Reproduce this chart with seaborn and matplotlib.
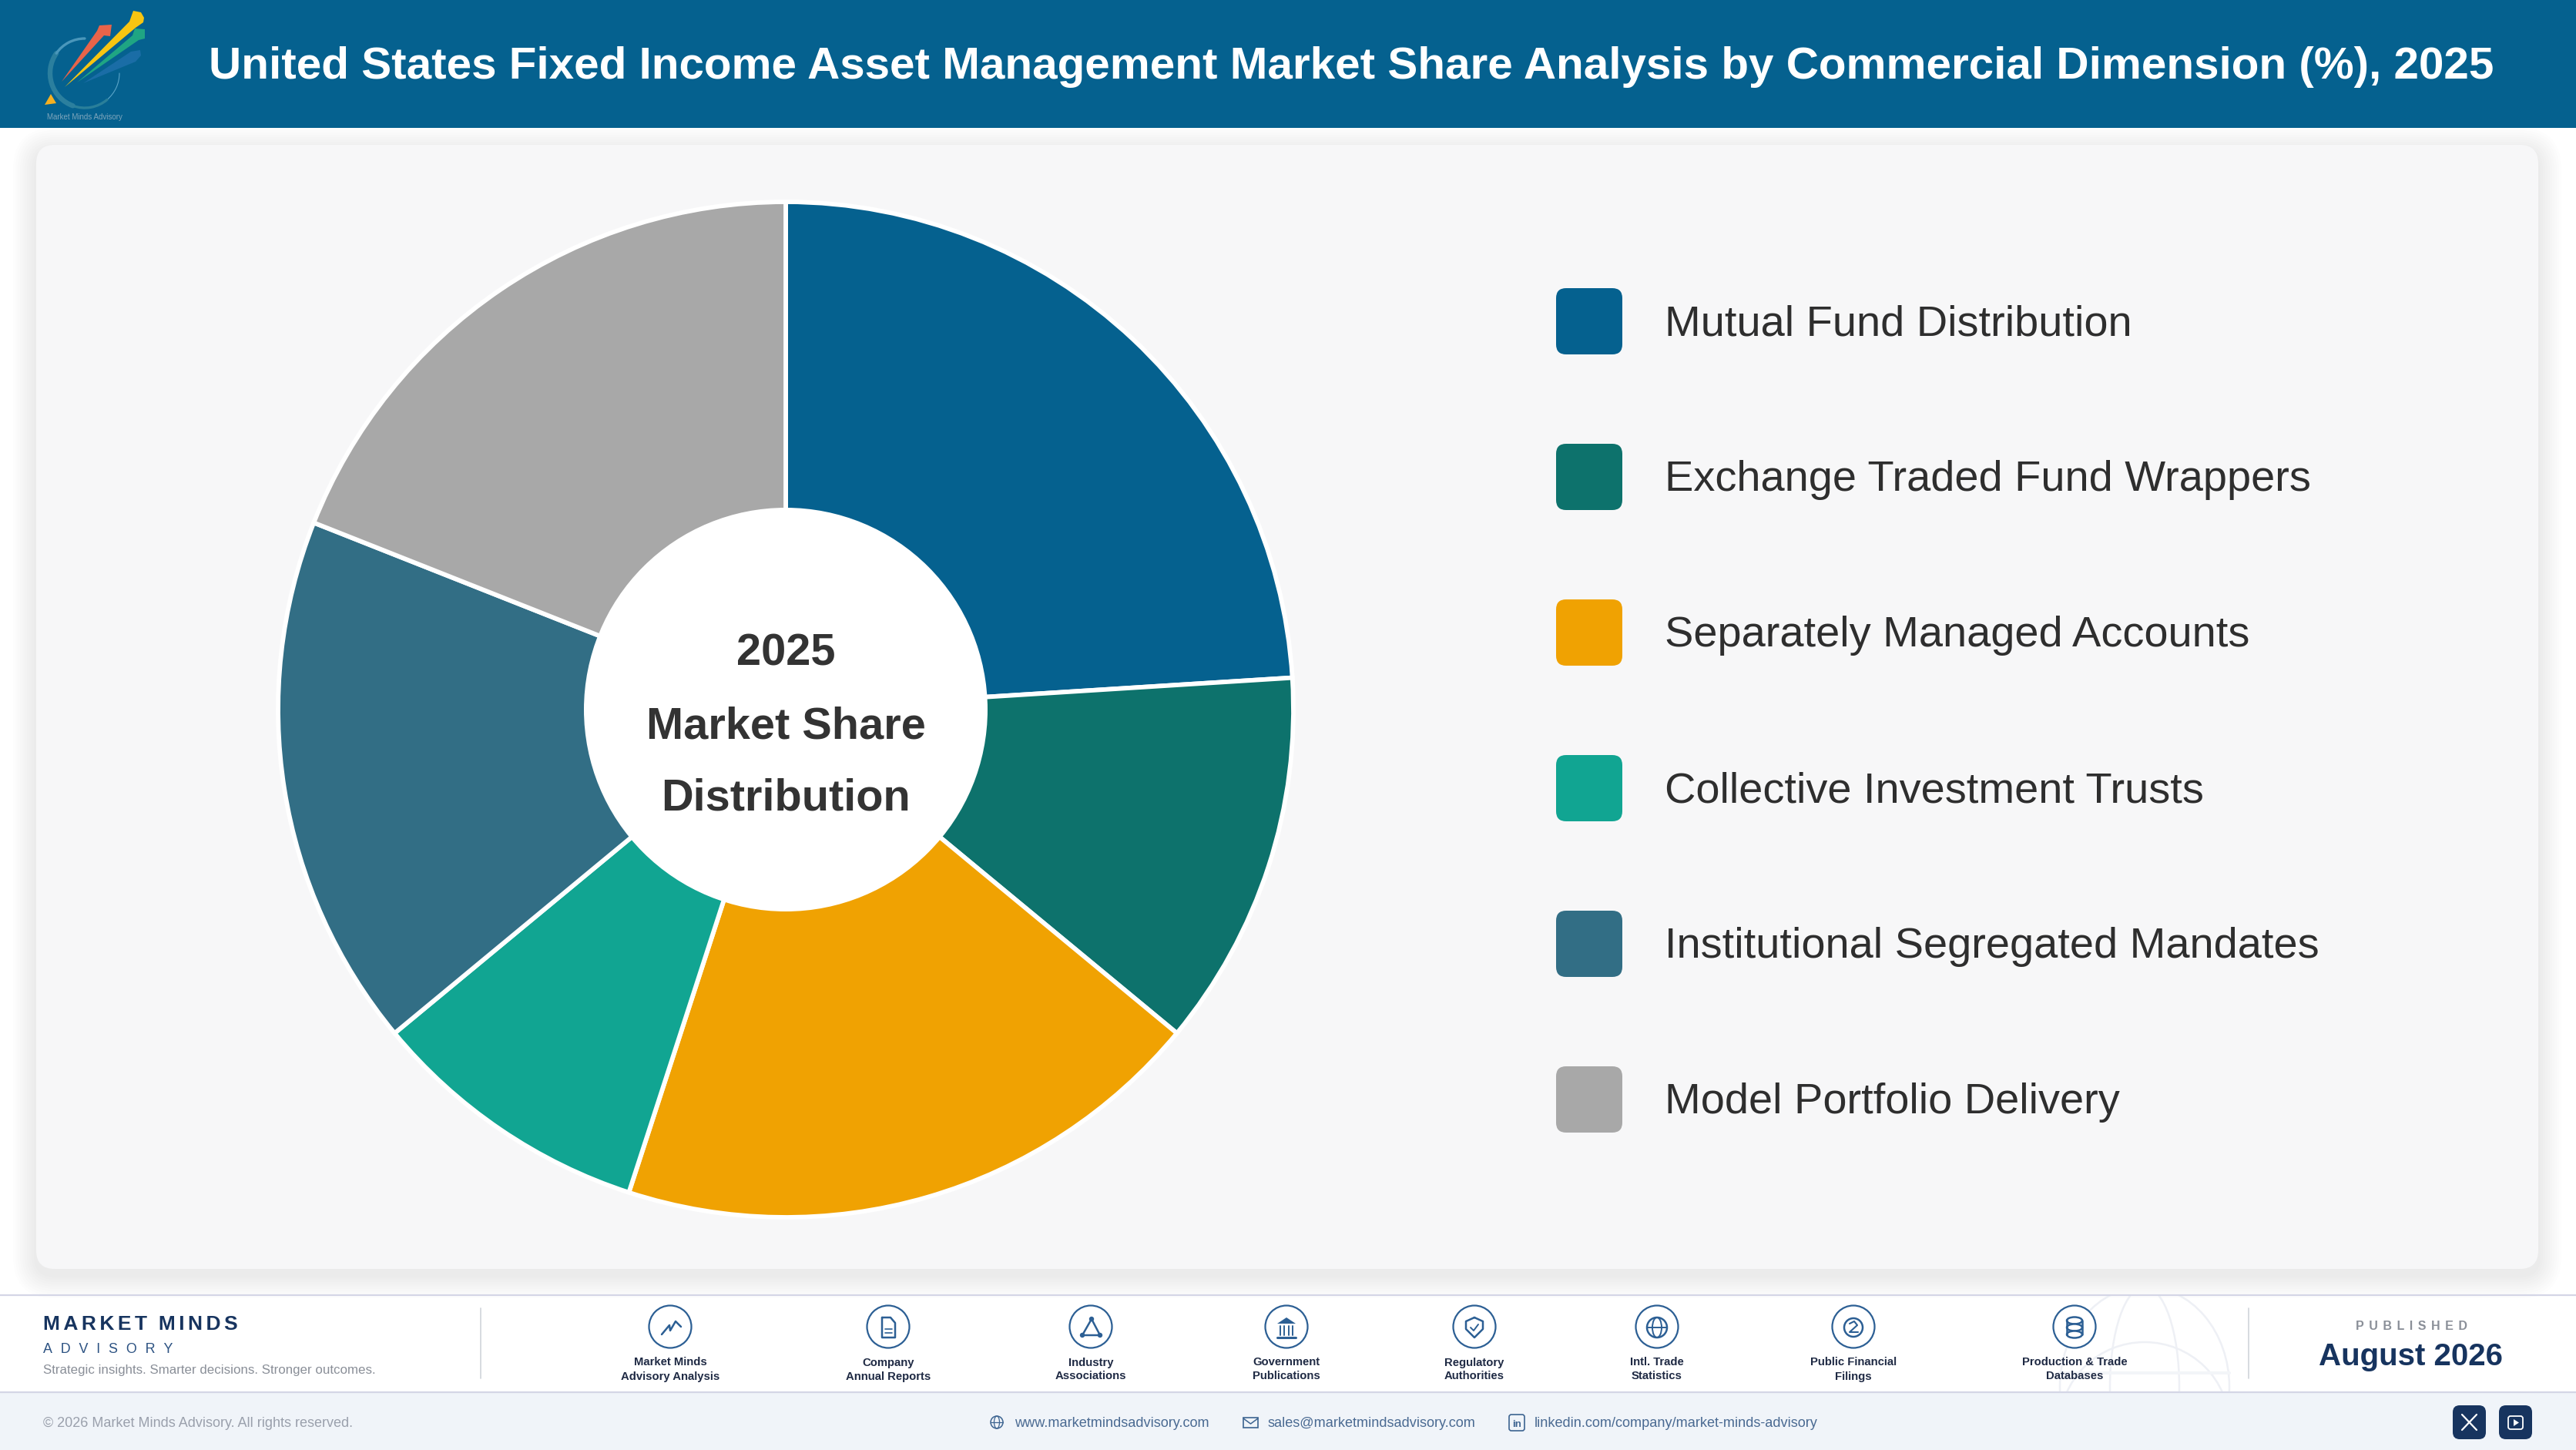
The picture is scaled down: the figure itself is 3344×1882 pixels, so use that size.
import matplotlib
matplotlib.use("Agg")
import matplotlib.pyplot as plt
import seaborn as sns
from matplotlib.patches import Circle, Ellipse, FancyBboxPatch, Polygon, Rectangle, Arc

# chart values
categories = ["Mutual Fund Distribution", "Exchange Traded Fund Wrappers", "Separately Managed Accounts",
              "Collective Investment Trusts", "Institutional Segregated Mandates", "Model Portfolio Delivery"]
shares = [24, 12, 19, 9, 17, 19]
colors = ["#05618F", "#0D726C", "#F0A202", "#11A592", "#326E85", "#A8A8A8"]

title = "United States Fixed Income Asset Management Market Share Analysis by Commercial Dimension (%), 2025"
center_lines = ["2025", "Market Share", "Distribution"]
source_labels = [("Market Minds", "Advisory Analysis"), ("Company", "Annual Reports"), ("Industry", "Associations"),
                 ("Government", "Publications"), ("Regulatory", "Authorities"), ("Intl. Trade", "Statistics"),
                 ("Public Financial", "Filings"), ("Production & Trade", "Databases")]
source_x = [870, 1153, 1416, 1670, 1914, 2151, 2406, 2693]

W, H = 3344, 1882
HEADER = "#05618F"
NAVY = "#17345F"
ICON = "#2C5F94"
FONT = ["Liberation Sans", "DejaVu Sans"]

sns.set_theme(style="white")
plt.rcParams["font.family"] = FONT
palette = sns.color_palette(colors)

fig = plt.figure(figsize=(W / 100, H / 100), dpi=100, facecolor="white")


def make_overlay(z):
    a = fig.add_axes([0, 0, 1, 1], zorder=z)
    a.set_xlim(0, W)
    a.set_ylim(H, 0)
    a.axis("off")
    return a


bg = make_overlay(0)
ov = make_overlay(2)


def rounded(ax, x0, y0, x1, y1, r, **kw):
    p = FancyBboxPatch((x0 + r, y0 + r), x1 - x0 - 2 * r, y1 - y0 - 2 * r,
                       boxstyle=f"round,pad={r},rounding_size={r}", **kw)
    ax.add_patch(p)
    return p


def txt(x, y, s, size, color, weight="normal", ha="left", ax=None):
    return (ax or ov).text(x, y, s, fontsize=size, color=color, fontweight=weight, ha=ha,
                           va="center_baseline", family=FONT)


def spaced(s, gap):
    return gap.join(s)


# header and panel, shadow is a stack of faint boxes
bg.add_patch(Rectangle((0, 0), W, 166, fc=HEADER, ec="none"))
for grow in range(30, 0, -3):
    rounded(bg, 47 - grow, 188 - grow + 8, 3295 + grow, 1647 + grow + 8, 24 + grow, fc="black", ec="none", alpha=0.0065)
rounded(bg, 47, 188, 3295, 1647, 24, fc="#F7F7F8", ec="none")

txt(271, 81, title, 42.05, "white", "bold")

# logo
for t0, t1, lw, c in [(0, 50, 0.8, "#5BA5C9"), (50, 110, 2.4, "#2A7F9A"), (110, 215, 4.6, "#2B7F9E"),
                      (215, 270, 2.4, "#4A97BB")]:
    seg = Arc((110, 95), 90, 90, theta1=t0, theta2=t1, color=c, lw=lw)
    seg.set_capstyle("round")
    ov.add_patch(seg)
ov.add_patch(Polygon([(58, 136), (66, 122), (73, 134)], fc="#F5B021", ec="none"))
arrows = [([(80, 106), (126, 40), (129, 33), (145, 32), (143, 47), (135, 46)], "#E8644A"),
          ([(84, 113), (168, 28), (173, 14), (183, 16), (187, 23), (186, 29), (176, 36)], "#F7C511"),
          ([(100, 107), (172, 46), (175, 37), (188, 38), (188, 50), (180, 52)], "#1FA583"),
          ([(108, 108), (170, 67), (182, 65), (183, 72), (176, 80)], "#1A6DA6")]
for pts, c in arrows:
    ov.add_patch(Polygon(pts, fc=c, ec="none"))
txt(110, 151, "Market Minds Advisory", 7, "#7FA6BC", ha="center")

# pie
R, cx, cy = 659, 1020, 921
ax = fig.add_axes([(cx - R) / W, (H - cy - R) / H, 2 * R / W, 2 * R / H], zorder=1)
ax.pie(shares, colors=palette, startangle=90, counterclock=False, radius=1,
       wedgeprops=dict(edgecolor="white", linewidth=4.2, clip_on=False))
ax.set_xlim(-1, 1)
ax.set_ylim(-1, 1)
ax.add_patch(Circle((0, 0), 262 / R, fc="white", ec="none", zorder=5))
for line_text, y in zip(center_lines, [843, 937, 1031]):
    txt(cx, y, line_text, 41.6, "#333333", "bold", ha="center")

# legend
for i, (name, c) in enumerate(zip(categories, palette)):
    top = 374 + i * 202
    rounded(ov, 2020, top, 2106, top + 86, 13, fc=c, ec="none")
    txt(2161, top + 41, name, 40.3, "#2E2E2E")

# footer bands
bg.add_patch(Rectangle((0, 1808), W, H - 1808, fc="#F0F4F9", ec="none"))
clip = Rectangle((0, 1682), W, 125, transform=bg.transData)
for e in [Ellipse((2784, 1800), 220, 260), Ellipse((2784, 1800), 90, 260), Ellipse((2784, 1850), 220, 216)]:
    e.set(fc="none", ec="#EEF0F5", lw=1.8)
    bg.add_patch(e)
    e.set_clip_path(clip)
bg.plot([2673, 2894], [1782, 1782], color="#F3F5F8", lw=3)
bg.set_xlim(0, W)
bg.set_ylim(H, 0)
for y in (1681, 1807):
    ov.plot([0, W], [y, y], color="#D4D6E6", lw=1.6, solid_capstyle="butt")
for x in (624, 2919):
    ov.plot([x, x], [1698, 1789], color="#D0D4DA", lw=1.2)

txt(56, 1716, spaced("MARKET", "\u200a\u200a") + " \u2009\u200a" + spaced("MINDS", "\u200a\u200a"), 19, "#17345F", "bold")
txt(56, 1749, spaced("ADVISORY", "\u2009\u2009\u2009"), 12.9, "#2C5282")
txt(56, 1777, "Strategic insights. Smarter decisions. Stronger outcomes.", 12.2, "#8A8F98")


def line(pts, c=ICON, lw=1.8):
    xs, ys = zip(*pts)
    ov.plot(xs, ys, color=c, lw=lw, solid_capstyle="round", solid_joinstyle="round")


def icon_glyph(i, x, y):
    if i == 0:
        line([(x - 11, y + 10), (x - 1, y - 2), (x, y + 5), (x + 7, y - 7), (x + 14, y)])
    elif i == 1:
        line([(x - 8, y - 12), (x + 3, y - 12), (x + 9, y - 5), (x + 9, y + 14), (x - 8, y + 14), (x - 8, y - 12)])
        line([(x - 4, y + 3), (x + 5, y + 3)], lw=1.2)
        line([(x - 4, y + 8), (x + 5, y + 8)], lw=1.2)
    elif i == 2:
        line([(x + 1, y - 10), (x - 11, y + 11), (x + 12, y + 11), (x + 1, y - 10)])
        for dx, dy in [(1, -10), (-11, 11), (12, 11)]:
            ov.add_patch(Circle((x + dx, y + dy), 3.2, fc=ICON, ec="none"))
    elif i == 3:
        ov.add_patch(Polygon([(x - 12, y - 4), (x, y - 12), (x + 12, y - 4)], fc=ICON, ec="none"))
        for dx in (-8, -3, 3, 8):
            line([(x + dx, y - 1), (x + dx, y + 11)], lw=1.4)
        line([(x - 12, y + 14), (x + 12, y + 14)], lw=2.2)
    elif i == 4:
        line([(x, y - 12), (x + 11, y - 7), (x + 11, y + 3), (x, y + 14), (x - 11, y + 3), (x - 11, y - 7), (x, y - 12)])
        line([(x - 5, y + 1), (x - 1, y + 5), (x + 5, y - 3)], lw=1.4)
    elif i == 5:
        ov.add_patch(Circle((x, y + 1), 13, fc="none", ec=ICON, lw=1.8))
        ov.add_patch(Ellipse((x, y + 1), 12, 26, fc="none", ec=ICON, lw=1.4))
        line([(x - 13, y + 1), (x + 13, y + 1)], lw=1.4)
    elif i == 6:
        ov.add_patch(Circle((x, y + 1), 12, fc="none", ec=ICON, lw=1.8))
        line([(x - 5, y - 4), (x + 1, y - 7), (x + 5, y - 2), (x - 5, y + 7), (x + 6, y + 7)], lw=1.5)
    else:
        for dy in (-8, 1, 10):
            ov.add_patch(Ellipse((x, y + dy), 20, 9, fc="white", ec=ICON, lw=1.8))
        line([(x - 10, y - 8), (x - 10, y + 10)])
        line([(x + 10, y - 8), (x + 10, y + 10)])


for i, ((a, b), x) in enumerate(zip(source_labels, source_x)):
    ov.add_patch(Circle((x, 1722), 27.5, fc="white", ec=ICON, lw=1.6))
    icon_glyph(i, x, 1722)
    txt(x, 1767, a, 10.7, "#1F2A44", "bold", ha="center")
    txt(x, 1785, b, 10.7, "#1F2A44", "bold", ha="center")

txt(3130, 1720, spaced("PUBLISHED", "\u2009\u2009"), 11.5, "#8A8F98", "bold", ha="center")
txt(3130, 1757, "August 2026", 29, NAVY, "bold", ha="center")

# bottom contact row
txt(56, 1846, "\u00a9 2026 Market Minds Advisory. All rights reserved.", 13, "#9AA0AC")
txt(1317, 1846, "www.marketmindsadvisory.com", 13.05, "#4A6A92")
txt(1646, 1846, "sales@marketmindsadvisory.com", 13.05, "#4A6A92")
txt(1992, 1846, "linkedin.com/company/market-minds-advisory", 13.05, "#4A6A92")

ov.add_patch(Circle((1294, 1846), 8, fc="none", ec="#3D6491", lw=1.1))
ov.add_patch(Ellipse((1294, 1846), 7, 16, fc="none", ec="#3D6491", lw=0.9))
line([(1286, 1846), (1302, 1846)], c="#3D6491", lw=0.9)
ov.add_patch(Rectangle((1614, 1840), 19, 13, fc="none", ec="#3D6491", lw=1.2))
line([(1614, 1841), (1623.5, 1848), (1633, 1841)], c="#3D6491", lw=1.1)
rounded(ov, 1959, 1836, 1979, 1857, 3, fc="none", ec="#3D6491", lw=1.2)
txt(1969, 1847, "in", 9.5, "#3D6491", "bold", ha="center")

rounded(ov, 3184, 1824, 3227, 1868, 9, fc=NAVY, ec="none")
rounded(ov, 3244, 1824, 3287, 1868, 9, fc=NAVY, ec="none")
line([(3196, 1836), (3215, 1856)], c="white", lw=1.6)
line([(3215, 1836), (3196, 1856)], c="white", lw=1.6)
rounded(ov, 3256, 1838, 3275, 1855, 3, fc="none", ec="white", lw=1.3)
ov.add_patch(Polygon([(3263, 1842), (3263, 1851), (3270, 1846.5)], fc="white", ec="none"))

fig.savefig("out.png", dpi=100)
